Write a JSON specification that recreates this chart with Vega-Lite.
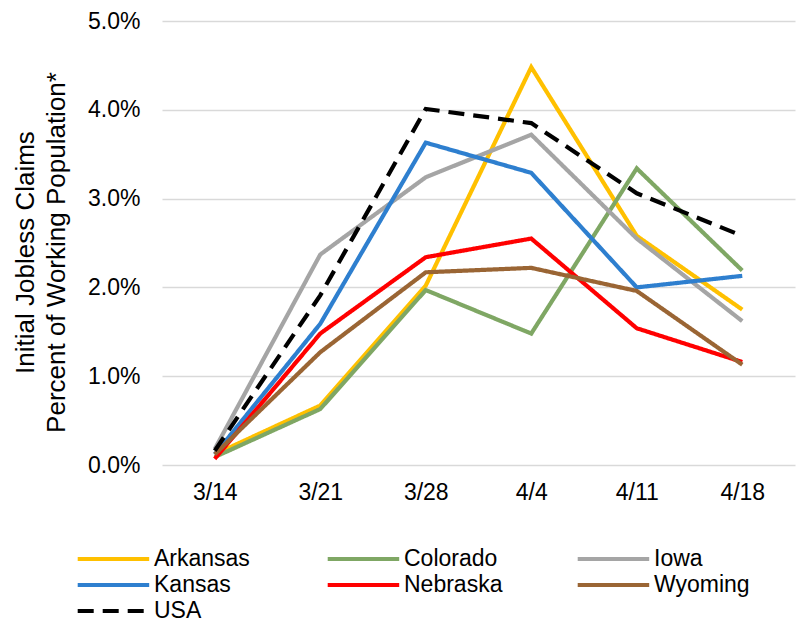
{
  "$schema": "https://vega.github.io/schema/vega-lite/v6.json",
  "autosize": "none",
  "width": 633,
  "height": 444,
  "padding": {"left": 162, "top": 21, "right": 4, "bottom": 155},
  "background": "white",
  "config": {
    "font": "Liberation Sans",
    "view": {"stroke": null},
    "axis": {"labelColor": "#000000", "titleColor": "#000000", "labelFont": "Liberation Sans", "titleFont": "Liberation Sans", "titleFontWeight": "normal"}
  },
  "data": {
    "values": [
      {"state": "Arkansas", "week": "3/14", "v": 0.0012},
      {"state": "Arkansas", "week": "3/21", "v": 0.0067},
      {"state": "Arkansas", "week": "3/28", "v": 0.0202},
      {"state": "Arkansas", "week": "4/4", "v": 0.0448},
      {"state": "Arkansas", "week": "4/11", "v": 0.0258},
      {"state": "Arkansas", "week": "4/18", "v": 0.0175},
      {"state": "Colorado", "week": "3/14", "v": 0.0009},
      {"state": "Colorado", "week": "3/21", "v": 0.0063},
      {"state": "Colorado", "week": "3/28", "v": 0.0197},
      {"state": "Colorado", "week": "4/4", "v": 0.0148},
      {"state": "Colorado", "week": "4/11", "v": 0.0334},
      {"state": "Colorado", "week": "4/18", "v": 0.0219},
      {"state": "Iowa", "week": "3/14", "v": 0.0018},
      {"state": "Iowa", "week": "3/21", "v": 0.0237},
      {"state": "Iowa", "week": "3/28", "v": 0.0324},
      {"state": "Iowa", "week": "4/4", "v": 0.0372},
      {"state": "Iowa", "week": "4/11", "v": 0.0255},
      {"state": "Iowa", "week": "4/18", "v": 0.0162},
      {"state": "Kansas", "week": "3/14", "v": 0.0012},
      {"state": "Kansas", "week": "3/21", "v": 0.0159},
      {"state": "Kansas", "week": "3/28", "v": 0.0363},
      {"state": "Kansas", "week": "4/4", "v": 0.0329},
      {"state": "Kansas", "week": "4/11", "v": 0.0200},
      {"state": "Kansas", "week": "4/18", "v": 0.0213},
      {"state": "Nebraska", "week": "3/14", "v": 0.0007},
      {"state": "Nebraska", "week": "3/21", "v": 0.0148},
      {"state": "Nebraska", "week": "3/28", "v": 0.0234},
      {"state": "Nebraska", "week": "4/4", "v": 0.0255},
      {"state": "Nebraska", "week": "4/11", "v": 0.0154},
      {"state": "Nebraska", "week": "4/18", "v": 0.0116},
      {"state": "Wyoming", "week": "3/14", "v": 0.0012},
      {"state": "Wyoming", "week": "3/21", "v": 0.0127},
      {"state": "Wyoming", "week": "3/28", "v": 0.0217},
      {"state": "Wyoming", "week": "4/4", "v": 0.0222},
      {"state": "Wyoming", "week": "4/11", "v": 0.0196},
      {"state": "Wyoming", "week": "4/18", "v": 0.0113},
      {"state": "USA", "week": "3/14", "v": 0.0016},
      {"state": "USA", "week": "3/21", "v": 0.0191},
      {"state": "USA", "week": "3/28", "v": 0.0401},
      {"state": "USA", "week": "4/4", "v": 0.0385},
      {"state": "USA", "week": "4/11", "v": 0.0306},
      {"state": "USA", "week": "4/18", "v": 0.0258}
    ]
  },
  "mark": {"type": "line", "strokeWidth": 4.2, "strokeCap": "butt", "strokeJoin": "miter"},
  "encoding": {
    "x": {
      "field": "week", "type": "ordinal",
      "sort": ["3/14", "3/21", "3/28", "4/4", "4/11", "4/18"],
      "scale": {"type": "point", "padding": 0.5},
      "axis": {"title": null, "labelAngle": 0, "labelFontSize": 23, "labelPadding": 16, "ticks": false, "domain": false, "grid": false}
    },
    "y": {
      "field": "v", "type": "quantitative",
      "scale": {"domain": [0, 0.05], "nice": false},
      "axis": {
        "values": [0, 0.01, 0.02, 0.03, 0.04, 0.05],
        "format": ".1%",
        "labelFontSize": 23,
        "labelPadding": 22,
        "ticks": false,
        "domain": false,
        "gridColor": "#D9D9D9",
        "gridWidth": 1.5,
        "title": ["Initial Jobless Claims", "Percent of Working Population*"],
        "titleFontSize": 26,
        "titleLineHeight": 31,
        "titleX": -124,
        "titleY": 231
      }
    },
    "color": {
      "field": "state", "type": "nominal",
      "scale": {
        "domain": ["Arkansas", "Colorado", "Iowa", "Kansas", "Nebraska", "Wyoming", "USA"],
        "range": ["#FFC000", "#7FA764", "#A5A5A5", "#2E7FCF", "#FF0000", "#9A6534", "#000000"]
      },
      "legend": {
        "title": null,
        "orient": "none",
        "legendX": -39,
        "legendY": 525,
        "direction": "horizontal",
        "columns": 3,
        "gridAlign": "all",
        "columnPadding": 66,
        "rowPadding": 1,
        "symbolType": "M -5.3 0 H 1.2",
        "symbolSize": 484,
        "symbolStrokeWidth": 4,
        "labelFontSize": 23,
        "labelColor": "#000000",
        "labelOffset": 5,
        "labelLimit": 200
      }
    },
    "strokeDash": {
      "field": "state", "type": "nominal",
      "scale": {
        "domain": ["Arkansas", "Colorado", "Iowa", "Kansas", "Nebraska", "Wyoming", "USA"],
        "range": [[1, 0], [1, 0], [1, 0], [1, 0], [1, 0], [1, 0], [16, 9]]
      }
    }
  }
}
